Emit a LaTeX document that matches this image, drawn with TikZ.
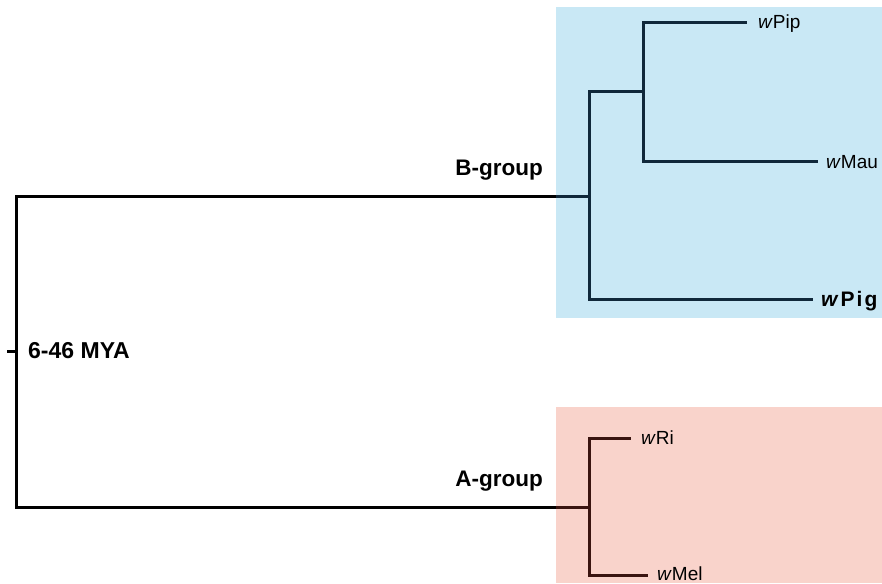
\documentclass[tikz,border=0pt]{standalone}
\usepackage{fontspec}
\setmainfont{Liberation Sans}
\definecolor{bluebg}{HTML}{C9E8F5}
\definecolor{pinkbg}{HTML}{F9D3CB}
\definecolor{bline}{HTML}{10283A}
\definecolor{aline}{HTML}{3A1410}
\tikzset{
  branch/.style={line width=3pt, line join=miter, line cap=rect},
  leaf/.style={anchor=base west, inner sep=0pt, font=\fontsize{19}{22}\selectfont},
  grp/.style={anchor=base east, inner sep=0pt, font=\bfseries\fontsize{22.5}{24}\selectfont},
}
\begin{document}
\begin{tikzpicture}[x=1pt,y=-1pt]
\useasboundingbox (0,0) rectangle (882,583);
\clip (0,0) rectangle (882,583);
\fill[bluebg] (556,7) rectangle (882,318);
\fill[pinkbg] (556,407) rectangle (882,583);
% coordinates
\coordinate (tick) at (7,351);
\coordinate (root) at (16,351);
\coordinate (rb) at (16,196);
\coordinate (ra) at (16,507);
\coordinate (Bin) at (556,196);
\coordinate (Ain) at (556,507);
\coordinate (B) at (589,196);
\coordinate (Btop) at (589,92);
\coordinate (Bbot) at (589,299);
\coordinate (C) at (643,92);
\coordinate (Ctop) at (643,23);
\coordinate (Cbot) at (643,161);
\coordinate (pipE) at (745,23);
\coordinate (mauE) at (816,161);
\coordinate (pigE) at (811,299);
\coordinate (A) at (589,507);
\coordinate (Atop) at (589,438);
\coordinate (Abot) at (589,575);
\coordinate (riE) at (629,438);
\coordinate (melE) at (646,575);
% root
\draw[branch, black, line cap=butt] (tick) -- (root);
\draw[branch, black] (Bin) -- (rb) -- (ra) -- (Ain);
% B clade
\draw[branch, bline, line cap=butt] (Bin) -- (B);
\draw[branch, bline] (C) -- (Btop) -- (Bbot) -- (pigE);
\draw[branch, bline] (pipE) -- (Ctop) -- (Cbot) -- (mauE);
% A clade
\draw[branch, aline, line cap=butt] (Ain) -- (A);
\draw[branch, aline] (riE) -- (Atop) -- (Abot) -- (melE);
% labels
\node[leaf] (pip) at (758,29) {\textit{w}Pip};
\node[leaf] (mau) at (826,168) {\textit{w}Mau};
\node[leaf, font=\bfseries\fontsize{21}{23}\selectfont] (pig) at (821,306) {\textit{w}\kern2pt P\kern2pt i\kern2pt g};
\node[leaf] (ri) at (641,444) {\textit{w}Ri};
\node[leaf] (mel) at (657,580) {\textit{w}Mel};
\node[grp] (bgroup) at (543,175) {B-group};
\node[grp] (agroup) at (543,486) {A-group};
\node[anchor=base west, inner sep=0pt, font=\bfseries\fontsize{23}{25}\selectfont] (mya) at (28,358) {6-46 MYA};
\end{tikzpicture}
\end{document}
